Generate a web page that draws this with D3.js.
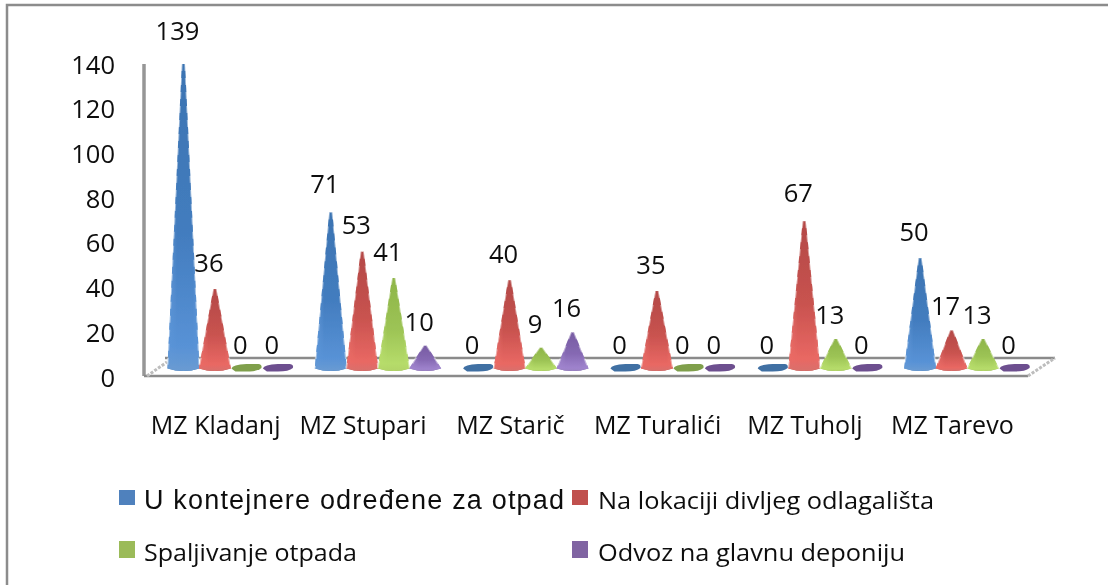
<!DOCTYPE html>
<html><head><meta charset="utf-8">
<script src="https://cdnjs.cloudflare.com/ajax/libs/d3/7.8.5/d3.min.js"></script>
<style>
html,body{margin:0;padding:0;background:#fff;overflow:hidden}
svg{display:block}
text{font-family:"Open Sans",sans-serif;fill:#111}
</style></head><body>
<script>
const categories=["MZ Kladanj","MZ Stupari","MZ Starič","MZ Turalići","MZ Tuholj","MZ Tarevo"];
const seriesNames=["U kontejnere određene za otpad","Na lokaciji divljeg odlagališta","Spaljivanje otpada","Odvoz na glavnu deponiju"];
const kontejneri=[139,71,0,0,0,50];
const lokacija=[36,53,40,35,67,17];
const spaljivanje=[0,41,9,0,13,13];
const odvoz=[0,10,16,0,0,0];
const axisTicks=[0,20,40,60,80,100,120,140];
const seriesColors=["#4f81bd","#c0504d","#9bbb59","#8064a2"];
const coneEdge=["#6a9bd2","#d8706c","#b2d468","#9a82c2"];
const coneDark=["#2f69aa","#ac3f3d","#86ae42","#6f529c"];
const coneLight=["#5a94d8","#ec6a65","#b8de6c","#a185cf"];
const flatColors=["#3f6fa3","#c0504d","#7f9f4c","#6d4f8f"];
const allSeries=[kontejneri,lokacija,spaljivanje,odvoz];

const W=1108,H=585;
const svg=d3.select("body").append("svg").attr("width",W).attr("height",H);
const defs=svg.append("defs");
const flt=(id,sd)=>defs.append("filter").attr("id",id).attr("x","-20%").attr("y","-10%").attr("width","140%").attr("height","120%")
  .append("feGaussianBlur").attr("stdDeviation",sd);
flt("soft",0.6); flt("txt",0.3);
seriesColors.forEach((c,i)=>{
  const g=defs.append("linearGradient").attr("id","cone"+i);
  [[0,coneEdge[i]],[.3,coneDark[i]],[.8,coneDark[i]],[1,coneEdge[i]]].forEach(([o,col])=>
    g.append("stop").attr("offset",o).attr("stop-color",col));
  const v=defs.append("linearGradient").attr("id","shade"+i).attr("x1",0).attr("x2",0).attr("y1",0).attr("y2",1);
  v.append("stop").attr("offset",0).attr("stop-color",coneEdge[i]).attr("stop-opacity",.2);
  v.append("stop").attr("offset",.55).attr("stop-color",coneLight[i]).attr("stop-opacity",.45);
  v.append("stop").attr("offset",.92).attr("stop-color",coneLight[i]).attr("stop-opacity",.95);
  v.append("stop").attr("offset",1).attr("stop-color",coneEdge[i]).attr("stop-opacity",1);
});

svg.append("path").attr("d",`M7,${H}V5H${W}`).attr("fill","none").attr("stroke","#8c8c8c").attr("stroke-width",2.5);

const x=d3.scaleBand().domain(d3.range(categories.length)).range([157,1041]).padding(0);
const xs=d3.scaleBand().domain(d3.range(seriesNames.length)).range([0,x.bandwidth()]).paddingOuter(0.34).paddingInner(0);
const y=d3.scaleLinear().domain([0,139]).range([367.5,64]);
const yAxis=d3.scaleLinear().domain([0,140]).range([377,64]);
const yLabel=d3.scaleLinear().domain([0,139]).range([344,30]);

const floor=svg.append("g").attr("fill","none").attr("stroke","#8a8a8a");
floor.append("path").attr("d","M144,64V376").attr("stroke-width",3.5).attr("stroke","#969696");
floor.append("path").attr("d","M144,376H1028").attr("stroke-width",2.5);
floor.append("path").attr("d","M165,358H1055").attr("stroke-width",2.5);
floor.append("path").attr("d","M1028,376L1055,358").attr("stroke-width",3).attr("stroke","#bdbdbd").attr("stroke-dasharray","3 1.5");
floor.append("path").attr("d","M147,376L167,362").attr("stroke-width",3).attr("stroke","#bdbdbd").attr("stroke-dasharray","3 1.5");

const marks=svg.append("g").attr("filter","url(#soft)");
const halfW=16, baseY=y(0)+3;
const line=d3.line();
allSeries.forEach((vals,s)=>{
  vals.forEach((v,c)=>{
    const cx=x(c)+xs(s)+xs.bandwidth()/2;
    if(v===0){
      const y0=y(0);
      marks.append("path")
        .attr("d",`M${cx-15},${y0+1}Q${cx-14},${y0-3} ${cx},${y0-3.5}L${cx+12},${y0-3.5}Q${cx+16},${y0-3} ${cx+15},${y0+.5}Q${cx+11},${y0+4} ${cx},${y0+4}L${cx-11},${y0+4}Z`)
        .attr("fill",flatColors[s]);
      return;
    }
    const top=y(v);
    const d=`M${cx-1.6},${top}L${cx+1.6},${top}L${cx+halfW},${baseY-2}Q${cx},${baseY+3} ${cx-halfW},${baseY-2}Z`;
    marks.append("path").attr("d",d).attr("fill",`url(#cone${s})`);
    marks.append("path").attr("d",d).attr("fill",`url(#shade${s})`);
    const edge=line([[cx-1.6,top],[cx-halfW,baseY-2]])+line([[cx+1.6,top],[cx+halfW,baseY-2]]);
    marks.append("path").attr("d",edge).attr("fill","none").attr("stroke","#fff").attr("stroke-opacity",.45).attr("stroke-width",1.8).attr("stroke-dasharray","7 7");
  });
});

const labels=svg.append("g").attr("filter","url(#txt)");
const numLen=n=>String(n).length*14.6;
labels.append("g").selectAll("text").data(axisTicks).join("text")
  .attr("x",d=>115-numLen(d)).attr("y",d=>yAxis(d)+9.5).attr("font-size",25)
  .attr("textLength",numLen).attr("lengthAdjust","spacingAndGlyphs").text(d=>d);

allSeries.forEach((vals,s)=>{
  vals.forEach((v,c)=>{
    const cx=x(c)+xs(s)+xs.bandwidth()/2;
    labels.append("text").attr("x",cx-6-numLen(v)/2).attr("y",yLabel(v)+9.5).attr("font-size",25)
      .attr("textLength",numLen(v)).attr("lengthAdjust","spacingAndGlyphs").text(v);
  });
});

labels.append("g").selectAll("text").data(categories).join("text")
  .attr("x",(d,i)=>x(i)+x.bandwidth()/2-15).attr("y",434).attr("text-anchor","middle")
  .attr("font-size",25).text(d=>d);

const legendCols=[119,572], legendRows=[490,541];
const legendWidths=[420,336,213,307];
seriesNames.forEach((n,i)=>{
  const lx=legendCols[i%2], ly=legendRows[Math.floor(i/2)];
  svg.append("rect").attr("x",lx).attr("y",ly).attr("width",16).attr("height",i<2?15:17).attr("fill",seriesColors[i]);
  const t=labels.append("text").attr("x",lx+(i%2?26:25)).attr("y",ly+(i<2?19:20))
    .attr("font-size",i===0?27:24).attr("textLength",legendWidths[i]).attr("lengthAdjust","spacingAndGlyphs").text(n);
  if(i===0) t.style("font-family","'Liberation Sans',sans-serif").attr("lengthAdjust","spacing");
});
</script>
</body></html>
